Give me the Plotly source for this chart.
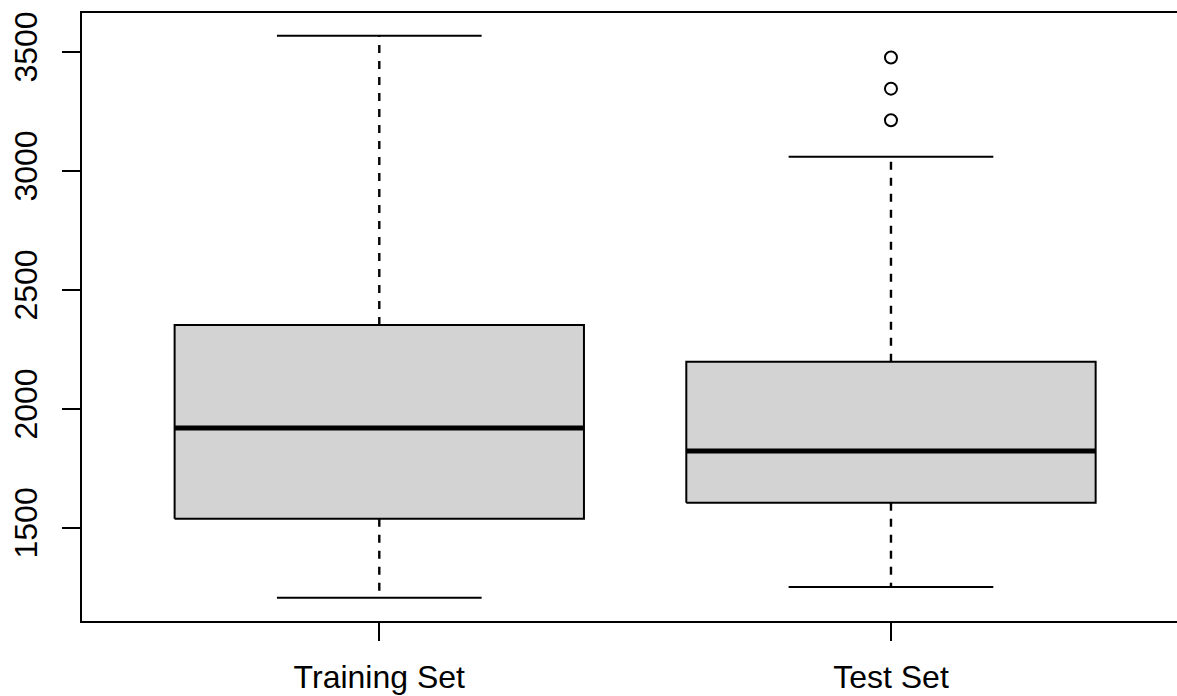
import plotly.graph_objects as go

# Five-number summaries and outliers per group
groups = ["Training Set", "Test Set"]
positions = [1, 2]
lower_whisker = [1206, 1251]
q1 = [1538, 1605]
median = [1919, 1822]
q3 = [2352, 2197]
upper_whisker = [3567, 3059]
outliers = [[], [3476, 3345, 3212]]

y_ticks = [1500, 2000, 2500, 3000, 3500]

BOX_HALF = 0.4
CAP_HALF = 0.2
FONT = "Liberation Sans, Arial, Helvetica, sans-serif"

fig = go.Figure()

for i, x in enumerate(positions):
    # box body
    fig.add_trace(go.Scatter(
        x=[x - BOX_HALF, x + BOX_HALF, x + BOX_HALF, x - BOX_HALF, x - BOX_HALF],
        y=[q1[i], q1[i], q3[i], q3[i], q1[i]],
        mode="lines", fill="toself", fillcolor="#d3d3d3",
        line=dict(color="black", width=2), hoverinfo="skip", showlegend=False,
    ))
    # median bar
    fig.add_trace(go.Scatter(
        x=[x - BOX_HALF, x + BOX_HALF], y=[median[i], median[i]],
        mode="lines", line=dict(color="black", width=5),
        hoverinfo="skip", showlegend=False,
    ))
    # dashed whiskers, drawn outward from the box edges
    for start, end in ((q3[i], upper_whisker[i]), (q1[i], lower_whisker[i])):
        fig.add_trace(go.Scatter(
            x=[x, x], y=[start, end], mode="lines",
            line=dict(color="black", width=2.4, dash="8px,8px"),
            hoverinfo="skip", showlegend=False,
        ))
    # whisker caps
    for v in (upper_whisker[i], lower_whisker[i]):
        fig.add_trace(go.Scatter(
            x=[x - CAP_HALF, x + CAP_HALF], y=[v, v], mode="lines",
            line=dict(color="black", width=2), hoverinfo="skip", showlegend=False,
        ))
    # outliers
    if outliers[i]:
        fig.add_trace(go.Scatter(
            x=[x] * len(outliers[i]), y=outliers[i], mode="markers",
            marker=dict(symbol="circle-open", size=12, color="black",
                        line=dict(width=2)),
            hoverinfo="skip", showlegend=False,
        ))

fig.update_layout(
    width=1177, height=696,
    margin=dict(l=82, r=0, t=13, b=75),
    paper_bgcolor="white", plot_bgcolor="white",
    font=dict(family=FONT, size=32, color="black"),
    xaxis=dict(
        range=[0.419, 2.559], tickvals=positions, ticktext=groups,
        showgrid=False, zeroline=False, automargin=False,
        showline=True, mirror=True, linecolor="black", linewidth=2,
        ticks="outside", ticklen=18, tickwidth=2, tickcolor="black",
        tickfont=dict(size=32), ticklabelstandoff=9,
    ),
    yaxis=dict(
        range=[1108, 3663], tickvals=y_ticks,
        showgrid=False, zeroline=False, automargin=False,
        showline=True, linecolor="black", linewidth=2,
        ticks="outside", ticklen=18, tickwidth=2, tickcolor="black",
        tickangle=-90, tickfont=dict(size=32), ticklabelstandoff=12,
    ),
)

fig.write_html("out.html")
